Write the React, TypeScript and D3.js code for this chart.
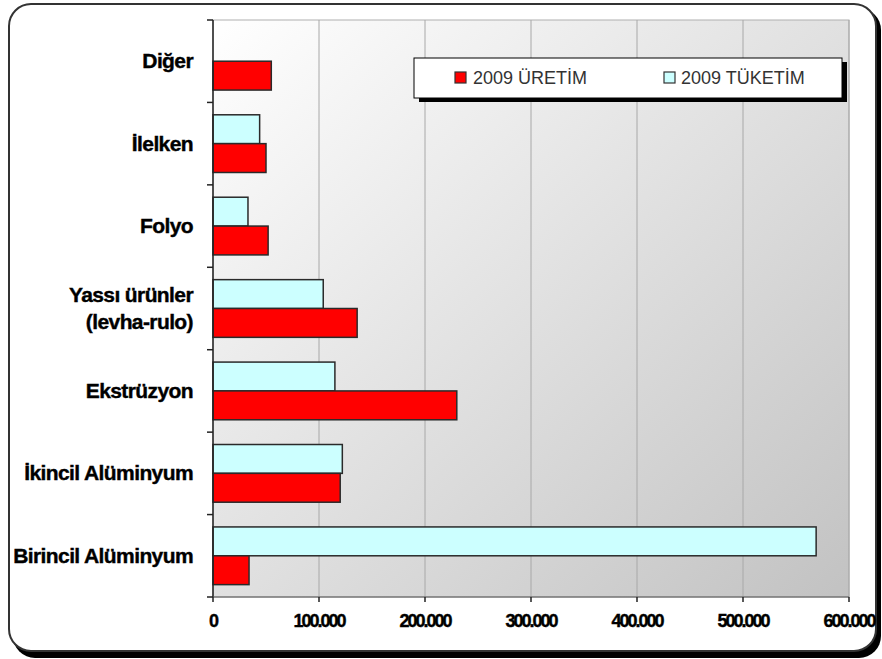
import React from "react";
import * as d3 from "d3";

const categories = ["Diğer", "İlelken", "Folyo", "Yassı ürünler\n(levha-rulo)", "Ekstrüzyon", "İkincil Alüminyum", "Birincil Alüminyum"];
const uretim = [55000, 50000, 52000, 136000, 230000, 120000, 34000];
const tuketim = [0, 44000, 33000, 104000, 115000, 122000, 569000];
const xTicks = [0, 100000, 200000, 300000, 400000, 500000, 600000];
const seriesNames = ["2009 ÜRETİM", "2009 TÜKETİM"];

const W = 882, H = 659;
const L = 213, R = 849, T = 20, B = 597;

export default function App() {
  const x = d3.scaleLinear().domain([0, 600000]).range([L, R]);
  const y = d3.scaleBand<string>().domain(categories).range([T, B]).paddingInner(0.3).paddingOuter(0.15);
  const yb = d3.scaleBand<string>().domain(categories).range([T, B]);
  const inner = d3.scaleBand<string>().domain(["t", "u"]).range([0, y.bandwidth()]);
  const fmt = (v: number) => d3.format(",")(v).replace(/,/g, ".");
  const font = "'Liberation Sans', Arial, sans-serif";
  return (
    <svg width={W} height={H} style={{ position: "absolute", left: 0, top: 0 }}>
      <defs>
        <linearGradient id="bg" x1="0" y1="0" x2="1" y2="1">
          <stop offset="0" stopColor="#ffffff" />
          <stop offset="1" stopColor="#c2c2c2" />
        </linearGradient>
      </defs>
      <rect x={0} y={0} width={W} height={H} fill="#fff" />
      <rect x={13} y={8} width={868} height={650} rx={22} fill="#000" />
      <rect x={9} y={4} width={867} height={647} rx={22} fill="#fff" stroke="#333" strokeWidth={2} />
      <rect x={L} y={T} width={R - L} height={B - T} fill="url(#bg)" stroke="#b0b0b0" />
      {xTicks.slice(1).map((t) => (
        <line key={t} x1={x(t)} x2={x(t)} y1={T} y2={B} stroke="#a8a8a8" strokeWidth={1} />
      ))}
      {categories.map((c, i) => (
        <g key={c}>
          <rect x={x(0)} y={(y(c) as number) + (inner("t") as number)} width={x(tuketim[i]) - x(0)} height={inner.bandwidth()} fill="#ccffff" stroke="#2a2a2a" strokeWidth={1.5} />
          <rect x={x(0)} y={(y(c) as number) + (inner("u") as number)} width={x(uretim[i]) - x(0)} height={inner.bandwidth()} fill="#ff0000" stroke="#2a2a2a" strokeWidth={1.5} />
        </g>
      ))}
      <line x1={L} x2={L} y1={T} y2={B} stroke="#222" strokeWidth={1.5} />
      <line x1={L} x2={R} y1={B} y2={B} stroke="#555" strokeWidth={1} />
      {categories.map((c) => (
        <line key={"yt" + c} x1={L - 6} x2={L} y1={yb(c) as number} y2={yb(c) as number} stroke="#222" strokeWidth={1.5} />
      ))}
      <line x1={L - 6} x2={L} y1={B} y2={B} stroke="#222" strokeWidth={1.5} />
      {xTicks.map((t) => (
        <g key={"xt" + t}>
          <line x1={x(t)} x2={x(t)} y1={B} y2={B + 5} stroke="#222" strokeWidth={1.5} />
          <text x={x(t)} y={B + 30} textAnchor="middle" fontFamily={font} fontWeight="bold" fontSize={18} letterSpacing={-2} stroke="#000" strokeWidth={0.4} fill="#000">{fmt(t)}</text>
        </g>
      ))}
      {categories.map((c) => {
        const lines = c.split("\n");
        const cy = (yb(c) as number) + yb.bandwidth() / 2;
        return (
          <text key={"lab" + c} x={193} textAnchor="end" fontFamily={font} fontWeight="bold" fontSize={21} letterSpacing={-0.6} stroke="#000" strokeWidth={0.4} fill="#000">
            {lines.map((l, k) => (
              <tspan key={k} x={193} y={cy + 7 + (k - (lines.length - 1) / 2) * 27}>{l}</tspan>
            ))}
          </text>
        );
      })}
      <rect x={419} y={62} width={428} height={40} fill="#000" />
      <rect x={414} y={58} width={428} height={40} fill="#fff" stroke="#000" strokeWidth={1} />
      <rect x={455} y={72} width={11} height={11} fill="#ff0000" stroke="#333" strokeWidth={1.2} />
      <text x={473} y={84} fontFamily={font} fontSize={18} fill="#333">{seriesNames[0]}</text>
      <rect x={664} y={72} width={11} height={11} fill="#ccffff" stroke="#333" strokeWidth={1.2} />
      <text x={681} y={84} fontFamily={font} fontSize={18} fill="#333">{seriesNames[1]}</text>
    </svg>
  );
}
